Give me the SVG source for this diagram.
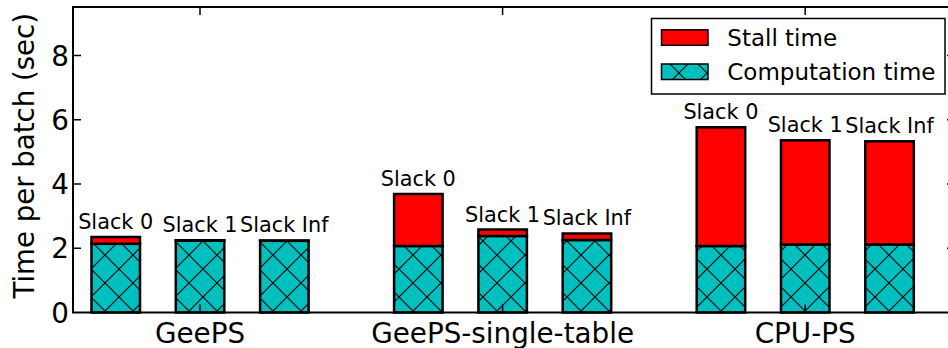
<svg xmlns="http://www.w3.org/2000/svg" width="948" height="348" viewBox="0 0 948 348">
<style>
text{font-family:"DejaVu Sans","Liberation Sans",sans-serif;fill:#000}
.comp{fill:url(#hx);stroke:#000;stroke-width:2.5}
.stall{fill:#ff0000;stroke:#000;stroke-width:2.5}
.lbl{font-size:20.8px;text-anchor:middle}
.tick{font-size:27.8px}
.ylab{font-size:27.6px}
.tk{stroke:#000;stroke-width:1.5;fill:none}
.leg{font-size:23px}
</style>
<defs>
<pattern id="hx" patternUnits="userSpaceOnUse" x="21" y="3" width="28" height="28">
<rect width="28" height="28" fill="#00BFBF"/>
<path d="M0,0 L28,28 M0,28 L28,0" stroke="#000" stroke-width="1.1"/>
</pattern>
</defs>
<rect width="948" height="348" fill="#fff"/>

<g id="bars-geeps">
<g id="geeps-slack0">
<rect class="comp" x="91.5" y="243.8" width="48.5" height="68.7"/>
<rect class="stall" x="91.5" y="237" width="48.5" height="6.8"/>
<text class="lbl" x="115.7" y="229.3">Slack 0</text>
</g>
<g id="geeps-slack1">
<rect class="comp" x="175.8" y="240.6" width="48.5" height="71.9"/>
<rect class="stall" x="175.8" y="240.3" width="48.5" height="0.3"/>
<text class="lbl" x="200" y="232.2">Slack 1</text>
</g>
<g id="geeps-slackinf">
<rect class="comp" x="260.1" y="240.8" width="48.5" height="71.7"/>
<rect class="stall" x="260.1" y="240.5" width="48.5" height="0.3"/>
<text class="lbl" x="284.3" y="232.4">Slack Inf</text>
</g>
</g>

<g id="bars-single">
<g id="single-slack0">
<rect class="comp" x="394.1" y="246" width="48.5" height="66.5"/>
<rect class="stall" x="394.1" y="194" width="48.5" height="52"/>
<text class="lbl" x="418.3" y="185.9">Slack 0</text>
</g>
<g id="single-slack1">
<rect class="comp" x="478.4" y="236" width="48.5" height="76.5"/>
<rect class="stall" x="478.4" y="229.5" width="48.5" height="6.5"/>
<text class="lbl" x="502.6" y="221.5">Slack 1</text>
</g>
<g id="single-slackinf">
<rect class="comp" x="562.7" y="240" width="48.5" height="72.5"/>
<rect class="stall" x="562.7" y="233.5" width="48.5" height="6.5"/>
<text class="lbl" x="586.9" y="225.3">Slack Inf</text>
</g>
</g>

<g id="bars-cpu">
<g id="cpu-slack0">
<rect class="comp" x="696.7" y="246" width="48.5" height="66.5"/>
<rect class="stall" x="696.7" y="127.3" width="48.5" height="118.7"/>
<text class="lbl" x="720.9" y="119.2">Slack 0</text>
</g>
<g id="cpu-slack1">
<rect class="comp" x="781" y="244.5" width="48.5" height="68"/>
<rect class="stall" x="781" y="140.3" width="48.5" height="104.2"/>
<text class="lbl" x="805.2" y="132.2">Slack 1</text>
</g>
<g id="cpu-slackinf">
<rect class="comp" x="865.3" y="244.5" width="48.5" height="68"/>
<rect class="stall" x="865.3" y="141.3" width="48.5" height="103.2"/>
<text class="lbl" x="889.5" y="133.2">Slack Inf</text>
</g>
</g>

<g id="axes">
<rect x="73" y="7" width="882" height="305.5" fill="none" stroke="#000" stroke-width="2"/>
<path class="tk" d="M73,248.3H81M73,184H81M73,119.8H81M73,55.5H81M947,248.3H955M947,184H955M947,119.8H955M947,55.5H955M200,7V15M502.6,7V15M805.2,7V15M200,312.5V304.5M502.6,312.5V304.5M805.2,312.5V304.5"/>
<g class="tick" text-anchor="end">
<text x="69" y="322.5">0</text>
<text x="69" y="258.3">2</text>
<text x="69" y="194">4</text>
<text x="69" y="129.8">6</text>
<text x="69" y="65.5">8</text>
</g>
<g class="tick" text-anchor="middle">
<text x="200" y="342.5">GeePS</text>
<text x="502.6" y="342.5">GeePS-single-table</text>
<text x="805.2" y="342.5">CPU-PS</text>
</g>
<text class="ylab" text-anchor="middle" transform="translate(34,155.8) rotate(-90)">Time per batch (sec)</text>
</g>

<g id="legend">
<rect x="651.5" y="18.5" width="293.5" height="75.5" fill="#fff" stroke="#000" stroke-width="1.5"/>
<rect x="661.5" y="29.8" width="46.5" height="15.5" fill="#ff0000" stroke="#000" stroke-width="1.5"/>
<rect x="661.5" y="64" width="46.5" height="15.5" fill="url(#hx)" stroke="#000" stroke-width="1.5"/>
<text class="leg" x="727.3" y="45.7">Stall time</text>
<text class="leg" x="727.3" y="79.7">Computation time</text>
</g>
</svg>
